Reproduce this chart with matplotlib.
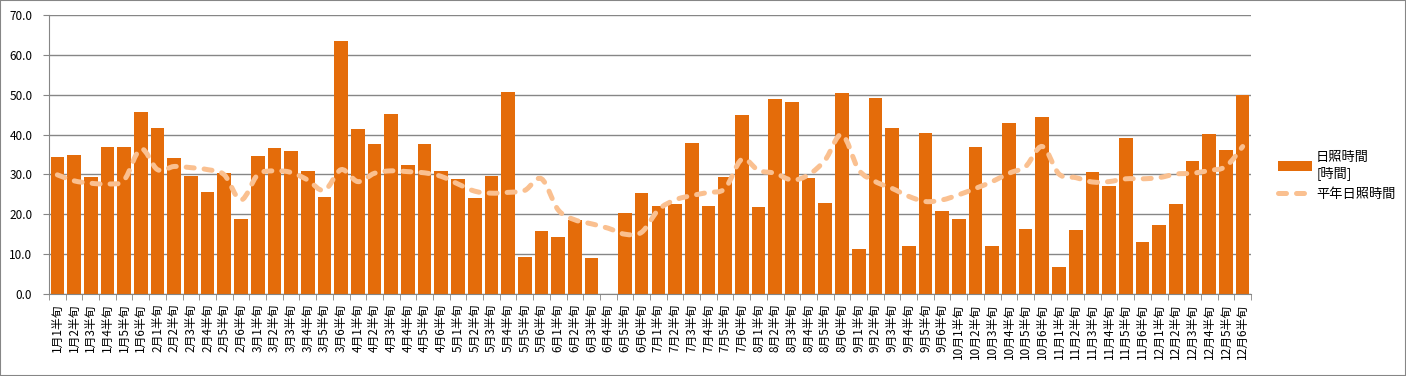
import numpy as np
import matplotlib
matplotlib.use("Agg")
import matplotlib.pyplot as plt
from matplotlib.path import Path
from matplotlib.patches import PathPatch, Patch, Rectangle
from matplotlib.lines import Line2D

plt.rcParams['font.family'] = ['Noto Sans CJK JP', 'DejaVu Sans']

# ─ DATA ─
months = list(range(1, 13))
pentads = list(range(1, 7))
labels = [f"{m}月{k}半旬" for m in months for k in pentads]

sunshine = [
    34.4, 34.9, 29.4, 36.9, 36.9, 45.7, 41.7, 34.2, 29.6, 25.6, 30.4, 18.8,
    34.7, 36.7, 35.9, 30.9, 24.4, 63.6, 41.5, 37.7, 45.2, 32.4, 37.7, 30.9,
    28.9, 24.1, 29.6, 50.8, 9.3, 15.8, 14.3, 18.6, 9.0, 0.0, 20.4, 25.4,
    22.1, 22.6, 37.9, 22.1, 29.4, 45.0, 21.9, 49.0, 48.2, 29.1, 22.9, 50.5,
    11.3, 49.2, 41.7, 12.1, 40.5, 20.9, 18.8, 36.9, 12.1, 43.0, 16.3, 44.5,
    6.8, 16.1, 30.7, 27.1, 39.2, 13.1, 17.3, 22.6, 33.4, 40.2, 36.2, 50.0,
]

normal = [
    29.9, 28.4, 27.8, 27.6, 28.6, 36.4, 31.2, 32.0, 31.7, 31.2, 29.9, 23.6,
    29.9, 30.9, 30.5, 28.6, 26.0, 31.2, 28.2, 30.3, 30.9, 30.7, 30.4, 29.5,
    27.6, 25.8, 25.3, 25.5, 26.0, 28.9, 21.1, 18.6, 17.6, 16.5, 15.0, 15.5,
    21.1, 23.6, 24.7, 25.5, 26.5, 33.8, 31.0, 30.3, 28.6, 29.9, 33.7, 40.0,
    31.2, 28.2, 26.5, 24.5, 23.2, 23.6, 24.9, 26.5, 28.2, 30.3, 32.0, 37.0,
    30.1, 29.2, 28.1, 28.2, 28.9, 28.9, 29.2, 30.1, 30.3, 31.0, 32.0, 37.0,
]

BAR_C = "#E46C0A"
LINE_C = "#FAC090"
GRID_C = "#868686"

fig = plt.figure(figsize=(14.06, 3.76), dpi=100)
ax = fig.add_axes([49/1406, 1-294/376, (1251-49)/1406, (294-15)/376])

x = np.arange(len(labels))
ax.bar(x, sunshine, width=0.82, color=BAR_C, zorder=2)

# smoothed line like Excel (bezier through the data points)
pts = np.column_stack([x, normal]).astype(float)
verts = [pts[0]]
codes = [Path.MOVETO]
n = len(pts)
for i in range(n - 1):
    p0 = pts[max(i - 1, 0)]
    p1 = pts[i]
    p2 = pts[i + 1]
    p3 = pts[min(i + 2, n - 1)]
    c1 = p1 + (p2 - p0) / 6
    c2 = p2 - (p3 - p1) / 6
    verts += [c1, c2, p2]
    codes += [Path.CURVE4] * 3
patch = PathPatch(Path(verts, codes), fill=False, edgecolor=LINE_C, lw=3.6,
                  linestyle=(0, (1.6, 2.0)), capstyle='round', zorder=3)
ax.add_patch(patch)

ax.set_xlim(-0.5, len(labels) - 0.5)
ax.set_ylim(0, 70)
ax.set_yticks(np.arange(0, 71, 10))
ax.set_yticklabels([f"{v:.1f}" for v in np.arange(0, 71, 10)])
ax.yaxis.grid(True, color=GRID_C, lw=1.0, zorder=0)
ax.set_axisbelow(True)

ax.set_xticks(x)
ax.set_xticklabels(labels, rotation=90, fontsize=8.5, va='top')
ax.set_xticks(np.arange(-0.5, len(labels), 1), minor=True)
ax.tick_params(axis='x', which='major', length=0, pad=7)
ax.tick_params(axis='x', which='minor', length=4, color=GRID_C, direction='out')
ax.tick_params(axis='y', length=4, color=GRID_C, labelsize=8.5, pad=8)

for s in ['top', 'right']:
    ax.spines[s].set_visible(False)
for s in ['left', 'bottom']:
    ax.spines[s].set_color(GRID_C)

handles = [
    Patch(facecolor=BAR_C, edgecolor='none'),
    Line2D([], [], color=LINE_C, lw=3.6, linestyle=(0, (1.6, 2.0)),
           dash_capstyle='round'),
]
fig.legend(handles, ["日照時間\n[時間]", "平年日照時間"], loc='center left',
           bbox_to_anchor=(1266/1406, 1-176/376), frameon=False, fontsize=9.5,
           handlelength=2.6, handletextpad=0.3, labelspacing=0.6)

fig.patches.append(Rectangle((0, 0), 1, 1, transform=fig.transFigure,
                             fill=False, edgecolor=GRID_C, lw=1.5))

fig.savefig("out.png", dpi=100)
